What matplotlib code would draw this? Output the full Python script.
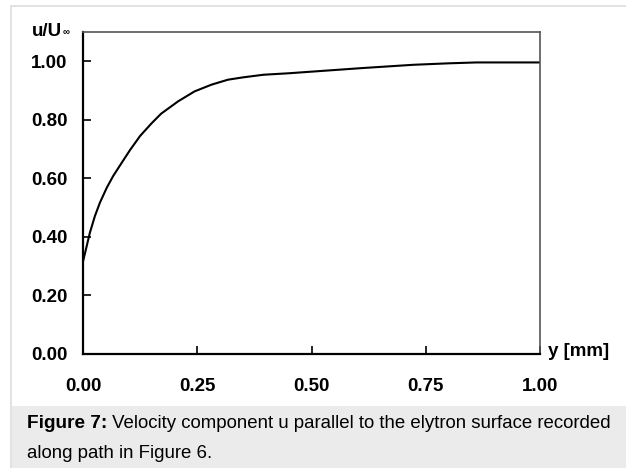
import matplotlib
matplotlib.use("Agg")
import matplotlib.pyplot as plt
from matplotlib.patches import Rectangle

plt.rcParams['font.family'] = ['Liberation Sans', 'DejaVu Sans']

# werte
y_mm = [0.0, 0.008, 0.015, 0.026, 0.037, 0.052, 0.066, 0.085, 0.103, 0.125,
        0.150, 0.171, 0.208, 0.244, 0.281, 0.317, 0.350, 0.395, 0.450, 0.504,
        0.613, 0.723, 0.800, 0.861, 1.0]
u_rel = [0.316, 0.368, 0.414, 0.471, 0.517, 0.568, 0.608, 0.654, 0.697, 0.745,
         0.788, 0.821, 0.863, 0.897, 0.920, 0.937, 0.945, 0.954, 0.959, 0.965,
         0.977, 0.988, 0.993, 0.996, 0.996]

x_ticks = [0.0, 0.25, 0.5, 0.75, 1.0]
y_ticks = [0.0, 0.2, 0.4, 0.6, 0.8, 1.0]

caption_bold = "Figure 7:"
caption_rest = " Velocity component u parallel to the elytron surface recorded"
caption_line2 = "along path in Figure 6."

W, H = 626, 468
fig = plt.figure(figsize=(W / 100, H / 100), dpi=100)

# rahmen + grauer kasten fuer die bildunterschrift (hinter allem)
fig.add_artist(Rectangle((11 / W, -0.1), 1.2, 1.1 - 6 / H, transform=fig.transFigure,
                         facecolor='none', edgecolor='#dddddd', lw=1.2, zorder=-2))
fig.add_artist(Rectangle((12 / W, 0), 1, 1 - 406 / H, transform=fig.transFigure,
                         facecolor='#ebebeb', edgecolor='none', zorder=-2))

ax = fig.add_axes([83 / W, 1 - 354 / H, (540 - 83) / W, (354 - 32) / H])
ax.plot(y_mm, u_rel, color='black', lw=1.5, solid_joinstyle='round')

ax.set_xlim(0, 1.0)
ax.set_ylim(0, 1.1)
ax.set_xticks(x_ticks)
ax.set_yticks(y_ticks)
ax.set_xticklabels([f"{v:.2f}" for v in x_ticks], fontsize=13.5, fontweight='bold')
ax.set_yticklabels([f"{v:.2f}" for v in y_ticks], fontsize=13.5, fontweight='bold')
ax.tick_params(axis='x', direction='in', length=6, width=1.2, pad=17)
ax.tick_params(axis='y', direction='in', length=6, width=1.2, pad=11)

for s in ['left', 'bottom']:
    ax.spines[s].set_linewidth(1.6)
    ax.spines[s].set_color('black')
for s in ['top', 'right']:
    ax.spines[s].set_linewidth(1.2)
    ax.spines[s].set_color('#555555')

# achsenbeschriftungen
t = fig.text(32 / W, 1 - 31 / H, "u/U", fontsize=13.5, fontweight='bold',
             ha='left', va='center')
fig.add_artist(matplotlib.text.Annotation("\u221e", xy=(1, 0), xycoords=t,
                                          xytext=(0.5, 1.5), textcoords='offset points',
                                          fontsize=7, fontweight='bold',
                                          ha='left', va='bottom'))
fig.text(548 / W, 1 - 352 / H, "y [mm]", fontsize=13.5, fontweight='bold',
         ha='left', va='center')

# bildunterschrift
c1 = fig.text(27 / W, 1 - 424 / H, caption_bold, fontsize=13.7, fontweight='bold',
              ha='left', va='center')
fig.add_artist(matplotlib.text.Annotation(caption_rest, xy=(1, 0), xycoords=c1,
                                          fontsize=13.4, ha='left', va='bottom'))
fig.text(27 / W, 1 - 453 / H, caption_line2, fontsize=13.4, ha='left', va='center')

fig.savefig("out.png", dpi=100)
